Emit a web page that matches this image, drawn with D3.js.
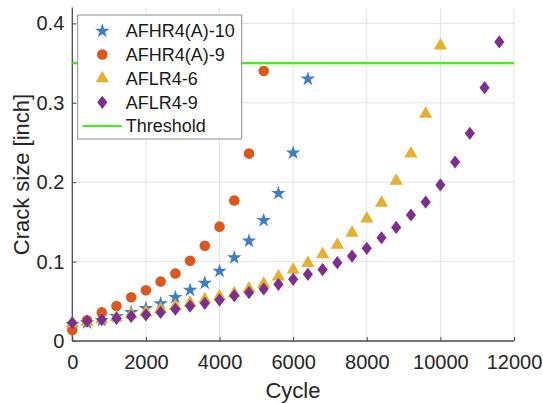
<!DOCTYPE html>
<html><head><meta charset="utf-8">
<script src="https://cdn.jsdelivr.net/npm/d3@7"></script>
<style>body{margin:0;background:#fff}svg{display:block}text{font-family:Arial,"Liberation Sans",sans-serif}</style>
</head><body><svg id="c" width="543" height="404"></svg>
<script>
const cycles = [0,400,800,1200,1600,2000,2400,2800,3200,3600,4000,4400,4800,5200,5600,6000,6400,6800,7200,7600,8000,8400,8800,9200,9600,10000,10400,10800,11200,11600];
const afhr10 = [0.021,0.023,0.026,0.031,0.036,0.041,0.047,0.055,0.064,0.073,0.088,0.105,0.126,0.152,0.186,0.237,0.330];
const afhr9  = [0.014,0.026,0.036,0.044,0.055,0.064,0.075,0.085,0.101,0.120,0.144,0.177,0.236,0.340];
const aflr6  = [0.022,0.024,0.027,0.030,0.033,0.036,0.040,0.044,0.048,0.0525,0.056,0.060,0.066,0.072,0.081,0.0894,0.098,0.109,0.121,0.136,0.154,0.174,0.2015,0.236,0.286,0.372];
const aflr9  = [0.023,0.025,0.027,0.0285,0.031,0.033,0.036,0.040,0.044,0.0475,0.0516,0.057,0.061,0.0655,0.0714,0.0777,0.084,0.090,0.0986,0.107,0.1167,0.130,0.143,0.1587,0.175,0.1965,0.2254,0.2616,0.319,0.3766];
const threshold = 0.35;
const xTicks = [0,2000,4000,6000,8000,10000,12000];
const yTicks = [0,0.1,0.2,0.3,0.4];
const seriesNames = ["AFHR4(A)-10","AFHR4(A)-9","AFLR4-6","AFLR4-9"];

const svg = d3.select("#c");
const L=72.3, R=514, T=7.5, B=341;
const x = d3.scaleLinear().domain([0,12000]).range([L,R]);
const y = d3.scaleLinear().domain([0,0.42]).range([B,T]);

const diamond = {draw(ctx,size){const h=Math.sqrt(size)*0.72, w=h*0.77; ctx.moveTo(0,-h);ctx.lineTo(w,0);ctx.lineTo(0,h);ctx.lineTo(-w,0);ctx.closePath();}};
const series = [
  {name:seriesNames[0], vals:afhr10, color:"#3D7EC7", sym:d3.symbolStar, size:66},
  {name:seriesNames[1], vals:afhr9, color:"#DD561C", sym:d3.symbolCircle, size:88},
  {name:seriesNames[2], vals:aflr6, color:"#E5B030", sym:d3.symbolTriangle, size:76},
  {name:seriesNames[3], vals:aflr9, color:"#7D2E8E", sym:diamond, size:84}
];

// grid
const g = svg.append("g");
g.selectAll(".gx").data(xTicks.slice(1)).enter().append("line")
  .attr("x1",d=>x(d)).attr("x2",d=>x(d)).attr("y1",B).attr("y2",T)
  .attr("stroke","#e3e3e3").attr("stroke-width",1);
g.selectAll(".gy").data(yTicks.slice(1)).enter().append("line")
  .attr("x1",L).attr("x2",R).attr("y1",d=>y(d)).attr("y2",d=>y(d))
  .attr("stroke","#e3e3e3").attr("stroke-width",1);

// axes
const xAxis = d3.axisBottom(x).tickValues(xTicks).tickSizeInner(-4).tickSizeOuter(0).tickPadding(14).tickFormat(d3.format("d"));
const yAxis = d3.axisLeft(y).tickValues(yTicks).tickSizeInner(-4).tickSizeOuter(0).tickPadding(8).tickFormat(d=>d===0?"0":d3.format(".1f")(d));
const gx = svg.append("g").attr("transform",`translate(0,${B})`).call(xAxis);
const gy = svg.append("g").attr("transform",`translate(${L},0)`).call(yAxis);
[gx,gy].forEach(a=>{
  a.select(".domain").attr("stroke","#4a4a4a").attr("stroke-width",1.3);
  a.selectAll(".tick line").attr("stroke","#4a4a4a");
  a.selectAll(".tick text").attr("fill","#262626").style("font-size","20px").style("font-family","Arial,'Liberation Sans',sans-serif");
});
gy.select(".domain").attr("d",`M0,${B}V${T}`);
gx.select(".domain").attr("d",`M${L},0H${R}`);

// threshold
svg.append("line").attr("x1",L).attr("x2",R).attr("y1",y(threshold)).attr("y2",y(threshold))
  .attr("stroke","#3CF50E").attr("stroke-width",2.2);

// markers
series.forEach(s=>{
  svg.append("g").selectAll("path").data(s.vals).enter().append("path")
    .attr("d",d3.symbol().type(s.sym).size(s.size))
    .attr("transform",(d,i)=>`translate(${x(cycles[i])},${y(d)})`)
    .attr("fill",s.color);
});

// labels
svg.append("text").attr("x",293).attr("y",397.5).attr("text-anchor","middle")
  .attr("fill","#262626").style("font-size","22px").text("Cycle");
svg.append("text").attr("transform",`translate(28.5,174.5) rotate(-90)`).attr("text-anchor","middle")
  .attr("fill","#262626").style("font-size","22px").text("Crack size [inch]");

// legend
const lg = svg.append("g");
lg.append("rect").attr("x",77.7).attr("y",15).attr("width",164).attr("height",124)
  .attr("fill","#fff").attr("stroke","#8f8f8f").attr("stroke-width",1);
const rows = [31,54.5,78.5,102.3,126];
series.forEach((s,i)=>{
  lg.append("path").attr("d",d3.symbol().type(s.sym).size(s.size))
    .attr("transform",`translate(102.3,${rows[i]})`).attr("fill",s.color);
  lg.append("text").attr("x",125.7).attr("y",rows[i]).attr("dy","0.35em")
    .attr("fill","#1a1a1a").style("font-size","18px").text(s.name);
});
lg.append("line").attr("x1",82.7).attr("x2",121.7).attr("y1",rows[4]).attr("y2",rows[4])
  .attr("stroke","#3CF50E").attr("stroke-width",2.2);
lg.append("text").attr("x",125.7).attr("y",rows[4]).attr("dy","0.35em")
  .attr("fill","#1a1a1a").style("font-size","18px").text("Threshold");
</script></body></html>
